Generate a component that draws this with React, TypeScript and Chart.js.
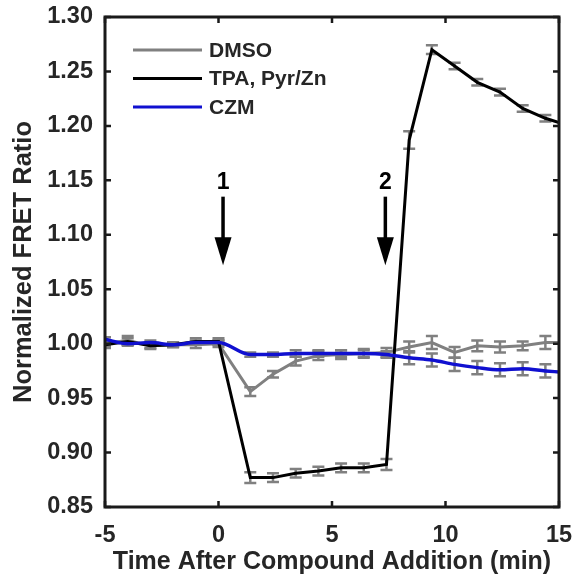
import { useEffect, useRef } from "react";
import { Chart, registerables } from "chart.js";

Chart.register(...registerables);

// ---- Data ----
const TIMES = [-5, -4, -3, -2, -1, 0, 1.4, 2.4, 3.4, 4.4, 5.4, 6.4, 7.4, 8.4, 9.4, 10.4, 11.4, 12.4, 13.4, 14.4, 15];

const DMSO = [1.0, 1.003, 0.998, 0.999, 0.999, 1.0, 0.956, 0.972, 0.984, 0.989, 0.99, 0.991, 0.992, 0.997, 1.001, 0.992, 0.998, 0.997, 0.998, 1.001, 1.001];
const DMSO_ERR = [0.002, 0.004, 0.003, 0.002, 0.003, 0.003, 0.004, 0.003, 0.004, 0.004, 0.004, 0.004, 0.004, 0.005, 0.006, 0.005, 0.005, 0.005, 0.004, 0.006, null];

const TPA = [0.999, 1.002, 0.998, 0.999, 1.002, 1.002, 0.877, 0.877, 0.881, 0.883, 0.886, 0.886, 0.889, 1.187, 1.27, 1.255, 1.24, 1.231, 1.216, 1.207, 1.203];
const TPA_ERR = [0.003, 0.003, 0.002, 0.002, 0.003, 0.003, 0.005, 0.004, 0.004, 0.004, 0.004, 0.004, 0.005, 0.008, 0.004, 0.003, 0.003, 0.003, 0.003, 0.003, null];

const CZM = [1.004, 1.0, 1.001, 0.999, 1.001, 1.001, 0.99, 0.99, 0.991, 0.991, 0.991, 0.991, 0.99, 0.987, 0.985, 0.981, 0.978, 0.976, 0.977, 0.975, 0.974];
const CZM_ERR = [0.002, 0.002, 0.002, 0.002, 0.002, 0.002, 0.002, 0.002, 0.003, 0.003, 0.003, 0.003, 0.003, 0.006, 0.006, 0.006, 0.006, 0.006, 0.006, 0.006, null];

const SERIES_NAMES = ["DMSO", "TPA, Pyr/Zn", "CZM"];
const X_TICKS = [-5, 0, 5, 10, 15];
const Y_TICKS = [0.85, 0.9, 0.95, 1.0, 1.05, 1.1, 1.15, 1.2, 1.25, 1.3];
const ARROW_LABELS = ["1", "2"];
const ARROW_TIMES = [0.2, 7.35];

const X_TITLE = "Time After Compound Addition (min)";
const Y_TITLE = "Normalized FRET Ratio";

const FONT = '"Liberation Sans", Arial, Helvetica, sans-serif';
const TEXT = "#262626";
const COLORS = ["#808080", "#000000", "#1010d0"];

export default function App() {
  const ref = useRef<HTMLCanvasElement>(null);

  useEffect(() => {
    document.body.style.margin = "0";
    const canvas = ref.current;
    if (!canvas) return;

    const errors = [DMSO_ERR, TPA_ERR, CZM_ERR];
    const values = [DMSO, TPA, CZM];

    const errPlugin = {
      id: "errbars",
      beforeDatasetsDraw(chart: any) {
        const { ctx, chartArea, scales } = chart;
        const xs = scales.x;
        const ys = scales.y;
        ctx.save();
        ctx.beginPath();
        ctx.rect(chartArea.left, chartArea.top, chartArea.right - chartArea.left, chartArea.bottom - chartArea.top);
        ctx.clip();
        ctx.strokeStyle = "#808080";
        ctx.lineWidth = 2.5;
        errors.forEach((errs, si) => {
          errs.forEach((e, i) => {
            if (e == null) return;
            const v = values[si][i];
            const px = xs.getPixelForValue(TIMES[i]);
            const y1 = ys.getPixelForValue(v + e);
            const y2 = ys.getPixelForValue(v - e);
            ctx.beginPath();
            ctx.moveTo(px, y1);
            ctx.lineTo(px, y2);
            ctx.moveTo(px - 6, y1);
            ctx.lineTo(px + 6, y1);
            ctx.moveTo(px - 6, y2);
            ctx.lineTo(px + 6, y2);
            ctx.stroke();
          });
        });
        ctx.restore();
      },
    };

    const decoPlugin = {
      id: "deco",
      afterDraw(chart: any) {
        const { ctx, chartArea, scales } = chart;
        const xs = scales.x;
        const ys = scales.y;
        const { left, right, top, bottom } = chartArea;
        ctx.save();
        // inward ticks
        ctx.strokeStyle = "#1a1a1a";
        ctx.lineWidth = 2.5;
        const tl = 6;
        X_TICKS.forEach((t) => {
          const px = xs.getPixelForValue(t);
          ctx.beginPath();
          ctx.moveTo(px, bottom);
          ctx.lineTo(px, bottom - tl);
          ctx.moveTo(px, top);
          ctx.lineTo(px, top + tl);
          ctx.stroke();
        });
        Y_TICKS.forEach((t) => {
          const py = ys.getPixelForValue(t);
          ctx.beginPath();
          ctx.moveTo(left, py);
          ctx.lineTo(left + tl, py);
          ctx.moveTo(right, py);
          ctx.lineTo(right - tl, py);
          ctx.stroke();
        });
        // frame
        ctx.lineWidth = 3;
        ctx.strokeRect(left, top, right - left, bottom - top);

        // legend
        ctx.font = `bold 21px ${FONT}`;
        ctx.textBaseline = "middle";
        ctx.textAlign = "left";
        const rows = [50, 78.5, 107];
        SERIES_NAMES.forEach((name, i) => {
          ctx.strokeStyle = COLORS[i];
          ctx.lineWidth = 3;
          ctx.beginPath();
          ctx.moveTo(133, rows[i]);
          ctx.lineTo(202, rows[i]);
          ctx.stroke();
          ctx.fillStyle = TEXT;
          ctx.fillText(name, 209, rows[i] + 1);
        });

        // arrows
        ARROW_TIMES.forEach((t, i) => {
          const px = xs.getPixelForValue(t);
          const yLabel = ys.getPixelForValue(1.148);
          const yTop = ys.getPixelForValue(1.135);
          const yTip = ys.getPixelForValue(1.072);
          const headH = 28;
          const headW = 8.5;
          ctx.fillStyle = "#000";
          ctx.font = `bold 23px ${FONT}`;
          ctx.textAlign = "center";
          ctx.textBaseline = "middle";
          ctx.fillText(ARROW_LABELS[i], px, yLabel);
          ctx.strokeStyle = "#000";
          ctx.lineWidth = 3.5;
          ctx.beginPath();
          ctx.moveTo(px, yTop);
          ctx.lineTo(px, yTip - headH + 2);
          ctx.stroke();
          ctx.beginPath();
          ctx.moveTo(px - headW, yTip - headH);
          ctx.lineTo(px + headW, yTip - headH);
          ctx.lineTo(px, yTip);
          ctx.closePath();
          ctx.fill();
        });
        ctx.restore();
      },
    };

    const mk = (vals: number[]) => vals.map((v, i) => ({ x: TIMES[i], y: v }));

    const chart = new Chart(canvas, {
      type: "line",
      data: {
        datasets: [
          {
            label: SERIES_NAMES[0],
            data: mk(DMSO),
            borderColor: COLORS[0],
            borderWidth: 3,
            pointRadius: 0,
            tension: 0,
            order: 3,
          },
          {
            label: SERIES_NAMES[1],
            data: mk(TPA),
            borderColor: COLORS[1],
            borderWidth: 3,
            pointRadius: 0,
            tension: 0,
            order: 2,
          },
          {
            label: SERIES_NAMES[2],
            data: mk(CZM),
            borderColor: COLORS[2],
            borderWidth: 3.5,
            pointRadius: 0,
            cubicInterpolationMode: "monotone",
            order: 1,
          },
        ],
      },
      options: {
        responsive: false,
        animation: false,
        layout: { padding: { top: 17, right: 17, left: 0, bottom: 0 } },
        plugins: {
          legend: { display: false },
          tooltip: { enabled: false },
        },
        scales: {
          x: {
            type: "linear",
            min: -5,
            max: 15,
            grid: { display: false, drawTicks: false },
            border: { display: false },
            afterBuildTicks: (s: any) => {
              s.ticks = X_TICKS.map((v) => ({ value: v }));
            },
            afterFit: (s: any) => {
              s.height = 71;
              s.paddingLeft = 0;
              s.paddingRight = 0;
              s.paddingTop = 0;
              s.paddingBottom = 0;
            },
            ticks: {
              color: TEXT,
              padding: 14,
              maxRotation: 0,
              font: { family: FONT, size: 23.5, weight: "bold" },
              callback: (v: any) => String(v),
            },
            title: {
              display: true,
              text: X_TITLE,
              color: TEXT,
              padding: { top: 0, bottom: 1 },
              font: { family: FONT, size: 25, weight: "bold" },
            },
          },
          y: {
            type: "linear",
            min: 0.85,
            max: 1.3,
            grid: { display: false, drawTicks: false },
            border: { display: false },
            afterBuildTicks: (s: any) => {
              s.ticks = Y_TICKS.map((v) => ({ value: v }));
            },
            afterFit: (s: any) => {
              s.width = 105;
              s.paddingLeft = 0;
              s.paddingRight = 0;
              s.paddingTop = 0;
              s.paddingBottom = 0;
            },
            ticks: {
              color: TEXT,
              padding: 12,
              font: { family: FONT, size: 23.5, weight: "bold" },
              callback: (v: any) => Number(v).toFixed(2),
            },
            title: {
              display: true,
              text: Y_TITLE,
              color: TEXT,
              padding: { top: 9, bottom: 0 },
              font: { family: FONT, size: 25.5, weight: "bold" },
            },
          },
        },
      } as any,
      plugins: [errPlugin, decoPlugin],
    });

    return () => chart.destroy();
  }, []);

  return (
    <div style={{ width: 576, height: 578, background: "#fff" }}>
      <canvas ref={ref} width={576} height={578} style={{ display: "block", width: 576, height: 578 }} />
    </div>
  );
}
